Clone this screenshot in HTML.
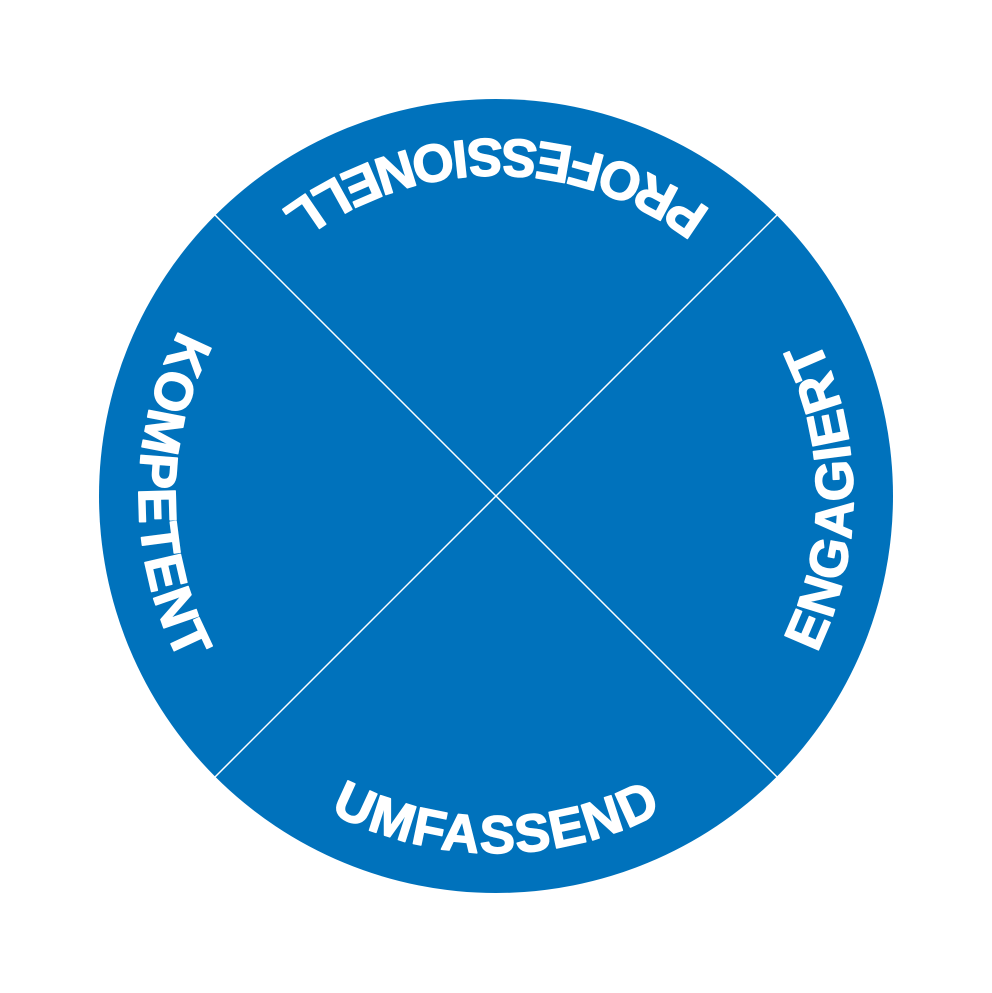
<!DOCTYPE html>
<html><head><meta charset="utf-8"><style>html,body{margin:0;padding:0;background:#fff}svg{display:block}
.t{font-family:"Liberation Sans",Arial,sans-serif;font-weight:bold;font-size:53px;fill:#fff;stroke:#fff;stroke-width:1.5px;stroke-linejoin:round}</style></head>
<body>
<svg width="992" height="993" viewBox="0 0 992 993" xmlns="http://www.w3.org/2000/svg">
<defs>
<path id="top" d="M 853 496 A 357 357 0 0 0 139 496"/>
<path id="bot" d="M 139 496 A 357 357 0 0 0 853 496"/>
<path id="right" d="M 496 853 A 357 357 0 0 0 496 139"/>
<path id="left" d="M 496 139 A 357 357 0 0 0 496 853"/>
</defs>
<circle cx="496" cy="496" r="397" fill="#0072bc"/>
<line x1="215" y1="215" x2="777" y2="777" stroke="#fff" stroke-width="1.5"/>
<line x1="777" y1="215" x2="215" y2="777" stroke="#fff" stroke-width="1.5"/>
<g text-anchor="middle">
<text class="t"><textPath href="#top" startOffset="50%" textLength="460" lengthAdjust="spacing">PROFESSIONELL</textPath></text>
<text class="t"><textPath href="#bot" startOffset="50%" textLength="345" lengthAdjust="spacing">UMFASSEND</textPath></text>
<text class="t"><textPath href="#right" startOffset="50%" textLength="325" lengthAdjust="spacing">ENGAGIERT</textPath></text>
<text class="t"><textPath href="#left" startOffset="50%" textLength="345" lengthAdjust="spacing">KOMPETENT</textPath></text>
</g>
</svg>
</body></html>
